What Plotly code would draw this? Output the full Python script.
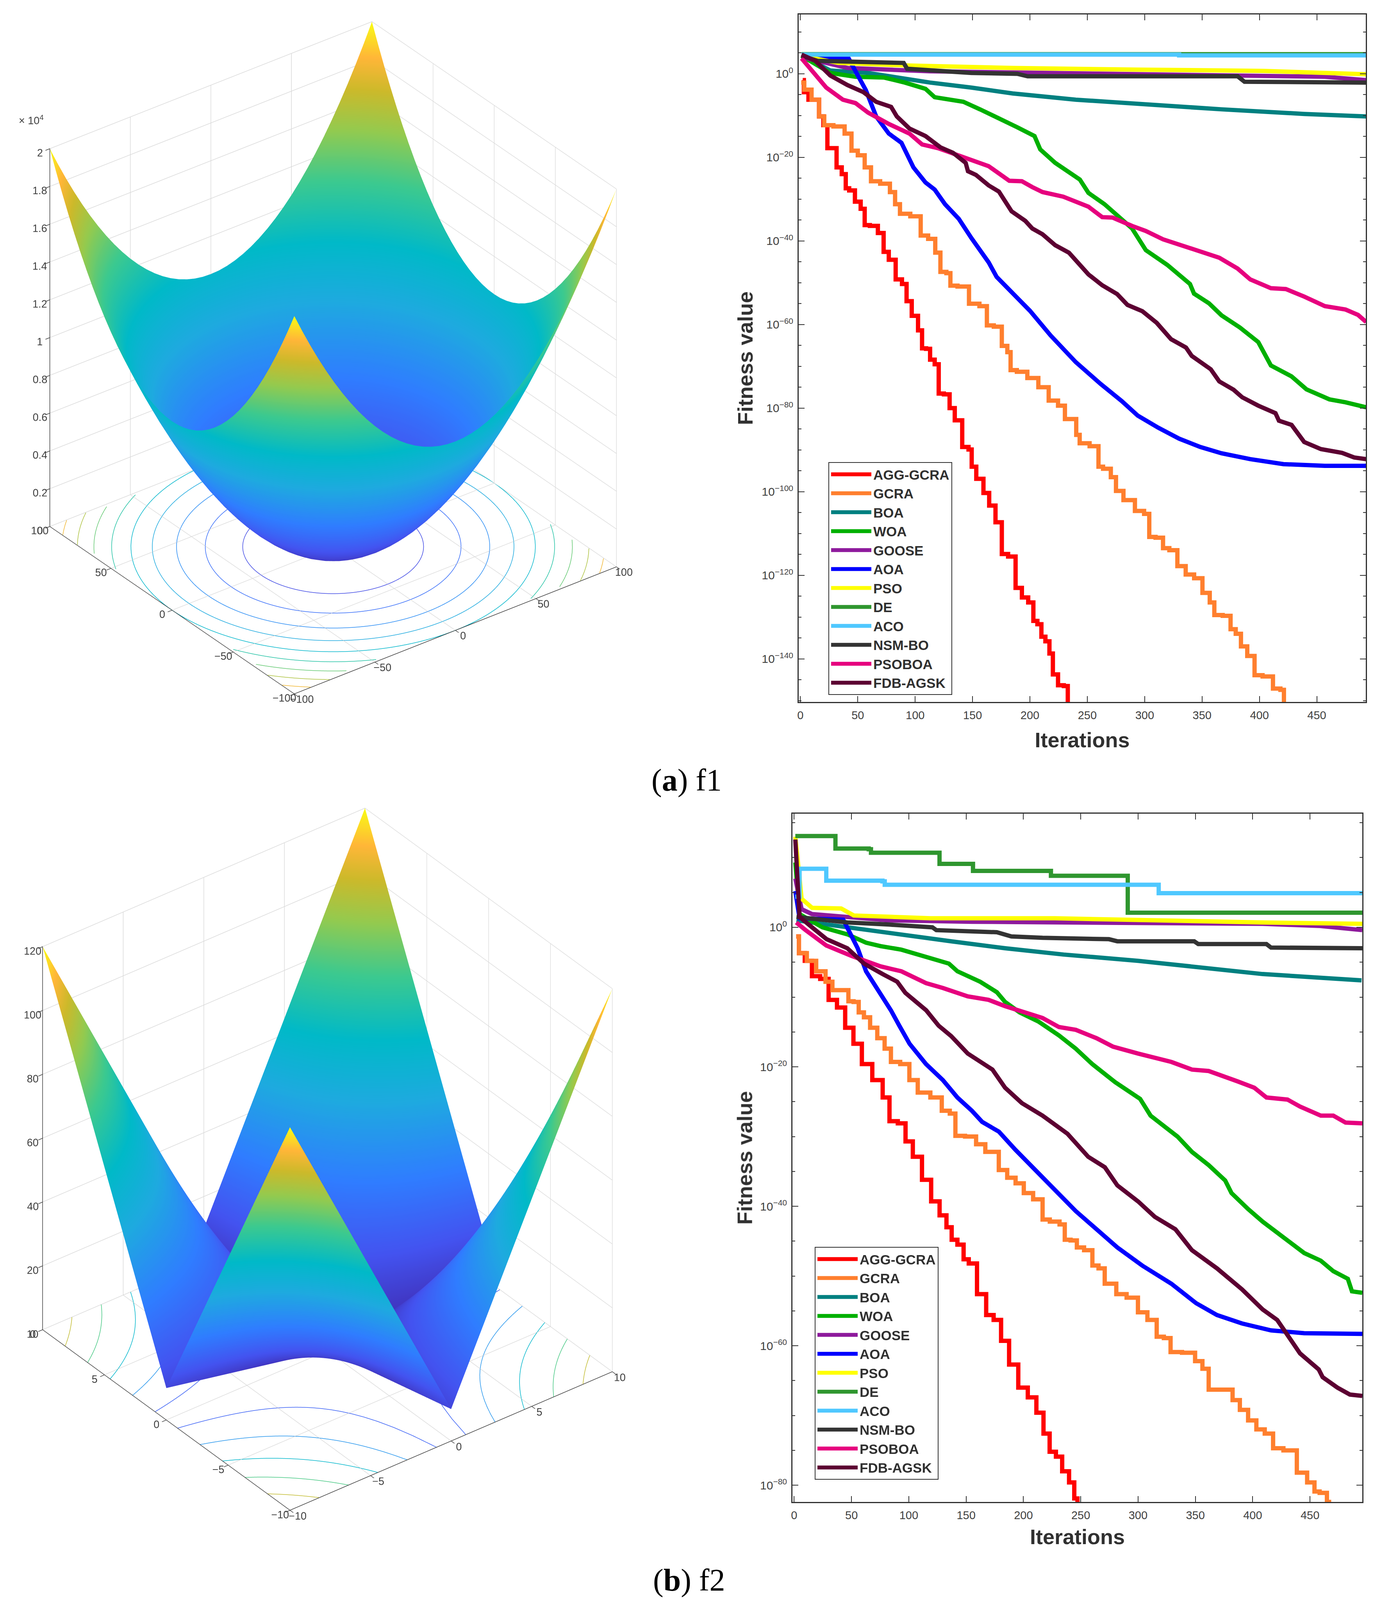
import numpy as np
import plotly.graph_objects as go

W, H = 3518, 4120

NAMES = ['AGG-GCRA', 'GCRA', 'BOA', 'WOA', 'GOOSE', 'AOA', 'PSO', 'DE', 'ACO', 'NSM-BO', 'PSOBOA', 'FDB-AGSK']
COLORS = ['#ff0000', '#ff7f2e', '#008080', '#00b000', '#8e1a9c', '#0000ff', '#ffff00', '#2f962f', '#4fc8ff', '#333333', '#e6007e', '#5c0032']
STEPPED = ['DE', 'ACO']
HALF_STEPPED = ['AGG-GCRA', 'GCRA']

# f1 curves, iteration and log10 of fitness
A_AGG_X = [2, 4, 10, 14.5, 18, 22, 25, 30, 33, 39, 40, 45, 50, 55, 57, 64, 71, 74, 80, 86, 91, 94, 100, 105, 107, 112, 114, 120, 121, 129, 131, 138, 144, 149, 149.5, 157, 162, 167, 173, 178, 184, 191, 195, 202, 204, 209, 211, 216, 218, 222, 227, 232, 234]
A_AGG_Y = [-1.5, -4.4, -6.2, -6.2, -10.2, -12.3, -17.8, -17.8, -22.4, -24, -27.4, -27.9, -30.6, -32.3, -36.2, -36.4, -38.1, -42.6, -44.5, -49.2, -50.3, -54.4, -57.9, -61.4, -65.7, -65.8, -68.4, -69.5, -76.5, -76.7, -80, -82.9, -89.3, -89.9, -94, -96.9, -100.3, -103.3, -107.3, -114.9, -115.5, -123, -125.3, -126.5, -130.9, -131.7, -134.7, -135.8, -138.7, -143.7, -146.3, -146.5, -150.3]
A_GCRA_X = [0.7, 6, 13.4, 19, 22.5, 35, 42, 47, 53, 59, 64, 75, 81, 84, 89.5, 102, 107.6, 115, 120, 124, 130.4, 131, 142.8, 151, 161, 164, 173, 178, 182.6, 183.7, 193.5, 202, 212.7, 220, 229, 232, 239, 241.7, 245, 259, 260.5, 267, 274, 276, 287, 296, 303, 305, 314, 318, 325, 332, 339.5, 346.7, 354, 359.4, 362, 374, 375.7, 383, 384.8, 394, 397.5, 408, 415.6, 421, 421.7]
A_GCRA_Y = [-2.1, -3.8, -6.2, -10.2, -12.3, -12.6, -14.3, -18.4, -19.5, -22.4, -25.7, -26.3, -28.3, -31.2, -33.5, -34.1, -38.7, -39.5, -42.8, -47.4, -47.7, -50.7, -50.9, -55, -55.6, -60.2, -60.5, -65.1, -66.6, -70.9, -71.3, -72.8, -75, -78.2, -79.4, -82.6, -82.6, -86.4, -88.4, -89.1, -94, -94.5, -96.5, -99.8, -102, -104.6, -105.3, -110.8, -111, -113.5, -114, -117.8, -119.8, -120.7, -124.2, -126.5, -129.5, -129.7, -132.9, -134, -137, -139.3, -143.9, -144.2, -147.1, -147.4, -150.3]
A_BOA_X = [1, 26, 59, 84, 113, 149, 185, 240, 295, 367, 439, 493]
A_BOA_Y = [4.3, 0.8, 0.2, -0.9, -2.1, -3.3, -4.7, -6.2, -7.3, -8.5, -9.6, -10.2]
A_WOA_X = [1, 26, 48, 73, 91, 109, 117, 142, 156.5, 175, 189, 204, 209, 222, 243.5, 251, 265, 289, 301, 319.6, 339.5, 343, 356, 367, 383, 399, 404.7, 410, 428, 441, 461, 475, 493]
A_WOA_Y = [4.3, 0.2, -0.7, -0.9, -2.1, -3.6, -5.6, -6.7, -8.5, -10.8, -12.8, -14.9, -18.1, -21.3, -25.3, -28.5, -31.2, -37, -42.2, -45.7, -50.3, -52.6, -54.9, -57.8, -60.7, -64.2, -67.2, -69.8, -72.4, -75.5, -77.9, -78.6, -79.8]
A_GOOSE_X = [1, 41, 113, 222, 330, 403, 457, 493]
A_GOOSE_Y = [4, 1.4, 0.6, 0.2, -0.1, -0.4, -0.7, -1.5]
A_AOA_X = [1, 42, 50, 57, 66, 77, 88, 98.5, 109, 117, 126, 138, 149, 164, 171, 185.5, 200, 218, 240, 261.6, 280, 294, 312, 330, 348.5, 367, 392, 421, 457, 493]
A_AOA_Y = [4.3, 3.7, -0.4, -3.9, -10.2, -14.3, -16.5, -22.4, -26, -27.7, -31.2, -34.7, -39.3, -45.1, -48.6, -52.7, -56.7, -62.6, -69, -74.2, -78.3, -81.8, -84.7, -87.3, -89.3, -90.8, -92.2, -93.4, -93.8, -93.8]
A_PSO_X = [1, 33, 91, 185.5, 294, 403, 493]
A_PSO_Y = [4.3, 2.6, 2, 1.4, 1, 0.7, -0.1]
A_DE_X = [1, 493]
A_DE_Y = [4.7, 4.4]
A_ACO_X = [1, 330, 493]
A_ACO_Y = [4.6, 4.4, 4.3]
A_NSM_X = [1, 15, 90, 93, 149, 189, 198, 381, 387, 493]
A_NSM_Y = [4.3, 3.1, 2.6, 1.2, 0.2, 0, -0.6, -0.6, -1.9, -2.1]
A_PSOBOA_X = [1, 10, 22.5, 37, 48, 59, 77, 95, 106, 120, 135, 146, 164, 182, 193, 202, 211, 229, 251, 263, 272, 289, 301, 316, 330, 348.5, 365, 381, 392, 410, 423, 439, 457, 475, 486, 493]
A_PSOBOA_Y = [3.7, 0.8, -3.3, -6.2, -7, -9.3, -12, -14.3, -16.9, -17.8, -19.3, -20.5, -22.1, -25.6, -25.7, -27.1, -28.3, -29.4, -31.8, -34.3, -34.4, -36.4, -37.6, -39.6, -40.8, -42.6, -44, -46.6, -49.2, -51.3, -51.5, -53.3, -55.6, -56.4, -57.7, -59.4]
A_FDB_X = [1, 13, 26, 41, 55, 66, 79, 84, 95, 109, 122, 133, 144, 146, 153, 164, 173, 184, 196, 202, 211, 222, 234, 243.5, 251, 263, 276, 285, 298, 310.5, 323, 336, 341, 357.6, 365, 377.5, 385, 399, 414, 417, 428, 439, 453.6, 472, 482.6, 493]
A_FDB_Y = [4.6, 3.1, -0.4, -2.7, -4.4, -6.7, -7.9, -10.2, -13.1, -14.9, -17.6, -18.9, -21.3, -23.3, -24.2, -26.7, -28.2, -32.9, -35.2, -37, -38.4, -41, -42.8, -45.7, -48, -50.6, -52.7, -55.3, -56.8, -59.6, -63.5, -65.5, -67.5, -70.7, -73.6, -75.6, -77.4, -79.4, -81.2, -83, -84, -88.1, -89.8, -90.7, -91.8, -92.2]

# f2 curves
B_AGG_X = [1.8, 6.5, 12, 19, 26.4, 33.7, 41, 48, 55.4, 62.7, 73.6, 80.8, 85.5, 95.3, 99, 108, 115, 124, 129.7, 136, 138.8, 146, 149.6, 155, 164, 171, 177, 184, 191, 200, 207.6, 215, 220, 225.7, 231, 236.6, 243, 245.7, 248.6]
B_AGG_Y = [-1.3, -3.7, -4.8, -7, -7.4, -10.4, -11.5, -14.4, -16.7, -19.6, -21.9, -24.4, -27.8, -28.1, -30.7, -32.9, -36.2, -39.3, -41.3, -43, -44.8, -45.5, -47.6, -48.2, -52.6, -55.6, -56.3, -59.3, -62.7, -66, -67.4, -69.6, -72.6, -75.2, -75.9, -78, -79.6, -81.9, -82.4]
B_GCRA_X = [1.8, 6.5, 15.6, 22.8, 31.9, 34.8, 46.4, 48.2, 55.4, 57.2, 64.5, 68, 77, 80.8, 88, 97, 104, 111.6, 126, 131.5, 140, 141.3, 156.9, 160.5, 173, 184, 187.7, 198.6, 202, 214.9, 218.5, 227.5, 235.5, 236.6, 245.7, 247.5, 258.3, 262, 269, 272.8, 280, 282, 298, 301.8, 314.5, 318, 327, 329.7, 347, 352.5, 359.8, 363.4, 377.9, 387, 390.6, 401.4, 405, 416, 419.6, 434, 443, 452, 455.8, 461, 468.5]
B_GCRA_Y = [-1.3, -3.7, -4.8, -6.3, -7.8, -9, -9, -10.6, -10.7, -12.2, -12.9, -14.4, -15.9, -17.4, -19.3, -19.6, -21.9, -23.7, -24.4, -26.3, -26.7, -29.9, -30, -31.1, -32.2, -34.8, -35.9, -36.7, -38.1, -39, -41.9, -42.2, -42.6, -44.8, -44.9, -45.9, -46.3, -48.5, -48.9, -51.1, -51.1, -52.6, -53.1, -55.2, -56.3, -58.7, -58.9, -60.9, -61, -62.2, -63.3, -66.3, -66.3, -67.8, -69.2, -70.7, -72, -72.6, -74.7, -75, -78.2, -79.6, -80.9, -81.1, -82.4]
B_BOA_X = [2, 28, 64.5, 100.7, 137, 184, 235, 300, 354, 408.7, 495]
B_BOA_Y = [1, 0.4, -0.4, -1.3, -2, -3, -3.9, -4.8, -5.7, -6.7, -7.6]
B_WOA_X = [1, 4.7, 24.6, 46.4, 62.7, 75.4, 93.5, 118.8, 135, 142.4, 162.3, 176.8, 184, 196.7, 213, 231, 245.7, 260, 280, 301.8, 310.9, 334.4, 347, 361.6, 376, 381.5, 396, 408.7, 426.8, 444.9, 459.4, 470.3, 483, 486.6, 495.6]
B_WOA_Y = [9.3, 1.9, 0, -1, -2.2, -2.7, -3.2, -4.4, -5.2, -6.3, -7.8, -9.3, -10.7, -12.2, -13.5, -15.5, -17.4, -19.6, -22.2, -24.6, -27, -30, -32.2, -34.1, -36.3, -38.1, -40.4, -42.2, -44.4, -46.7, -47.8, -49.3, -50.4, -52.2, -52.4]
B_GOOSE_X = [1, 6.5, 15.6, 42.8, 82.6, 155, 300, 408.7, 459, 495.6]
B_GOOSE_Y = [7, 2.6, 1.9, 1.5, 1, 0.8, 0.7, 0.5, 0.2, -0.4]
B_AOA_X = [1, 4.7, 42.8, 48, 55.4, 62.7, 75.4, 84.4, 91.7, 100.7, 115, 129.7, 142.4, 155, 164, 178.6, 193, 213, 234.8, 245.7, 263.8, 281.9, 303.6, 329, 350.7, 368.8, 390.6, 416, 444.9, 495.6]
B_AOA_Y = [5.2, 1.3, 1.1, -0.7, -3, -6.3, -9.6, -11.9, -14.1, -16.7, -19.6, -21.9, -24.4, -26.3, -27.9, -29.3, -31.9, -35.2, -38.9, -40.7, -43.3, -45.9, -48.5, -51.1, -53.9, -55.6, -56.8, -57.8, -58.2, -58.3]
B_PSO_X = [1, 6.5, 15.6, 41, 52, 118.8, 227.5, 300, 408.7, 495.6]
B_PSO_Y = [13, 4.1, 2.8, 2.7, 1.7, 1.3, 1.3, 1, 0.7, 0.5]
B_DE_X = [1, 32.6, 36, 65, 67, 124, 126.8, 154, 156, 222, 224, 289, 291, 495.6]
B_DE_Y = [13.1, 13.1, 11.3, 11.2, 10.7, 10.7, 9.1, 9.1, 8.1, 8.1, 7.4, 7.4, 2.1, 1.9]
B_ACO_X = [1, 4.7, 26.4, 28, 77, 79, 316, 318, 495.6]
B_ACO_Y = [4.4, 8.4, 8.4, 6.7, 6.6, 6.1, 6.1, 4.9, 4.9]
B_NSM_X = [2, 46.4, 82.6, 120.6, 124, 176.8, 189.5, 216.7, 274.6, 281.9, 349, 352.5, 412, 416, 495.6]
B_NSM_Y = [1.5, 0.7, 0.4, 0, -0.4, -0.7, -1.3, -1.5, -1.7, -2, -2, -2.4, -2.4, -2.9, -3]
B_PSOBOA_X = [1.8, 10, 28, 50, 75.4, 93.5, 115, 129.7, 151.4, 169.6, 184, 198.6, 216.7, 231, 245.7, 263.8, 278, 300, 329, 347, 361.6, 387, 401.4, 412, 430.4, 441.3, 459.4, 470.3, 481, 495.6]
B_PSOBOA_Y = [0.7, -0.4, -2.6, -4.1, -5.6, -6.3, -8, -8.7, -9.9, -10.4, -11.3, -12, -13, -14.3, -14.7, -15.9, -17.1, -18.1, -19.3, -20.4, -20.6, -22.1, -23, -24.4, -24.7, -25.7, -27, -27, -28, -28.1]
B_FDB_X = [1, 4.7, 15.6, 28.3, 46.4, 60.9, 77.2, 89.9, 97, 115.2, 126, 137, 151.4, 173, 184, 198.6, 216.7, 238.4, 256.5, 271, 281.9, 300, 314.5, 332.6, 347, 368.8, 390.6, 408.7, 421.4, 430.4, 441.3, 457.6, 461, 473.9, 484.8, 495.6]
B_FDB_Y = [12.6, 1.5, 0, -1.7, -3, -5.2, -6.7, -7.8, -9.4, -11.9, -14.1, -15.6, -18.1, -20.4, -23, -25.2, -27, -29.6, -32.9, -34.4, -37, -39.3, -41.5, -43.3, -46.3, -48.9, -51.9, -54.8, -56.3, -58.5, -61.1, -63.4, -64.5, -66, -67, -67.2]

A_CURVES = [(A_AGG_X, A_AGG_Y), (A_GCRA_X, A_GCRA_Y), (A_BOA_X, A_BOA_Y), (A_WOA_X, A_WOA_Y), (A_GOOSE_X, A_GOOSE_Y), (A_AOA_X, A_AOA_Y),
            (A_PSO_X, A_PSO_Y), (A_DE_X, A_DE_Y), (A_ACO_X, A_ACO_Y), (A_NSM_X, A_NSM_Y), (A_PSOBOA_X, A_PSOBOA_Y), (A_FDB_X, A_FDB_Y)]
B_CURVES = [(B_AGG_X, B_AGG_Y), (B_GCRA_X, B_GCRA_Y), (B_BOA_X, B_BOA_Y), (B_WOA_X, B_WOA_Y), (B_GOOSE_X, B_GOOSE_Y), (B_AOA_X, B_AOA_Y),
            (B_PSO_X, B_PSO_Y), (B_DE_X, B_DE_Y), (B_ACO_X, B_ACO_Y), (B_NSM_X, B_NSM_Y), (B_PSOBOA_X, B_PSOBOA_Y), (B_FDB_X, B_FDB_Y)]

X_TICKS = [0, 50, 100, 150, 200, 250, 300, 350, 400, 450]

F1_GRID = [-100, -95, -90, -85, -80, -75, -70, -65, -60, -55, -50, -45, -40, -35, -30, -25, -20, -15, -10, -5, 0,
           5, 10, 15, 20, 25, 30, 35, 40, 45, 50, 55, 60, 65, 70, 75, 80, 85, 90, 95, 100]
F2_GRID = [-10, -9.5, -9, -8.5, -8, -7.5, -7, -6.5, -6, -5.5, -5, -4.5, -4, -3.5, -3, -2.5, -2, -1.5, -1, -0.5, 0,
           0.5, 1, 1.5, 2, 2.5, 3, 3.5, 4, 4.5, 5, 5.5, 6, 6.5, 7, 7.5, 8, 8.5, 9, 9.5, 10]
F1_LEVELS = [2000, 4000, 6000, 8000, 10000, 12000, 14000, 16000, 18000]
F2_LEVELS = [20, 40, 60, 80, 100]

F1_TICKS = [-100, -50, 0, 50, 100]
F2_TICKS = [-10, -5, 0, 5, 10]
F1_Z_TICKS = [0, 2000, 4000, 6000, 8000, 10000, 12000, 14000, 16000, 18000, 20000]
F1_Z_TEXT = ['0', '0.2', '0.4', '0.6', '0.8', '1', '1.2', '1.4', '1.6', '1.8', '2']
F2_Z_TICKS = [0, 20, 40, 60, 80, 100, 120]

PARULA = [[0, '#3f2bb0'], [0.12, '#4353f0'], [0.25, '#2f7dff'], [0.4, '#1eaadf'], [0.52, '#00b9c8'],
          [0.65, '#3cc98f'], [0.76, '#93ca4f'], [0.85, '#cdb92a'], [0.92, '#ffb638'], [1, '#f9fb15']]


def px_x(x):
    return x / W


def px_y(y):
    return 1 - y / H


def mathtext(v):
    return str(v).replace('-', '\u2212')


def scene_layout(domain_y, ticks, z_ticks, z_text, camera, scale, z_aspect):
    # orthographic scenes ignore the eye distance, so the size comes from the aspect ratio
    common = dict(showbackground=False, showgrid=True, gridcolor='#d8d8d8', gridwidth=3, zeroline=False,
                  showline=True, linecolor='#303030', linewidth=3, ticks='outside', ticklen=14, tickwidth=3,
                  tickcolor='#303030', tickangle=0, title='', showspikes=False,
                  tickfont=dict(family='Liberation Sans', size=18, color='#404040'))
    return dict(
        domain=dict(x=[0, 0.5], y=domain_y),
        xaxis=dict(range=[ticks[0], ticks[-1]], tickvals=ticks, ticktext=[mathtext(t) for t in ticks], **common),
        yaxis=dict(range=[ticks[0], ticks[-1]], tickvals=ticks, ticktext=[mathtext(t) for t in ticks], **common),
        zaxis=dict(range=[z_ticks[0], z_ticks[-1]], tickvals=z_ticks, ticktext=z_text, **common),
        aspectmode='manual', aspectratio=dict(x=scale, y=scale, z=z_aspect), camera=camera,
    )


def camera_at(azimuth, elevation, dist, center):
    a, e = np.radians(azimuth), np.radians(elevation)
    eye = dict(x=center[0] + dist * np.cos(a) * np.cos(e), y=center[1] + dist * np.sin(a) * np.cos(e),
               z=center[2] + dist * np.sin(e))
    return dict(projection=dict(type='orthographic'), eye=eye, up=dict(x=0, y=0, z=1),
                center=dict(x=center[0], y=center[1], z=center[2]))


def surface_trace(grid, z, scene):
    return go.Surface(x=grid, y=grid, z=z, scene=scene, colorscale=PARULA, showscale=False,
                      cmin=0, cmax=z.max(), lighting=dict(ambient=1, diffuse=0, specular=0, roughness=1, fresnel=0),
                      hoverinfo='skip')


def floor_trace(xs, ys, vals, scene, vmax):
    return go.Scatter3d(x=xs, y=ys, z=[0] * len(xs), mode='lines', scene=scene, showlegend=False, hoverinfo='skip',
                        line=dict(color=vals, colorscale=PARULA, cmin=0, cmax=vmax, width=3))


def f1_arcs(levels):
    xs, ys, vals = [], [], []
    for level in levels:
        r = np.sqrt(level)
        t = np.linspace(0, 2 * np.pi, 181)
        cx, cy = r * np.cos(t), r * np.sin(t)
        for i in range(len(t)):
            inside = abs(cx[i]) <= 100 and abs(cy[i]) <= 100
            xs.append(float(cx[i]) if inside else None)
            ys.append(float(cy[i]) if inside else None)
            vals.append(level)
        xs.append(None)
        ys.append(None)
        vals.append(level)
    return xs, ys, vals


def f2_arcs(levels):
    xs, ys, vals = [], [], []
    for level in levels:
        u = np.linspace((level - 10) / 11, 10, 31)
        v = (level - u) / (1 + u)
        for sx in (1, -1):
            for sy in (1, -1):
                xs += (sx * u).tolist() + [None]
                ys += (sy * v).tolist() + [None]
                vals += [level] * (len(u) + 1)
    return xs, ys, vals


fig = go.Figure()

g1 = np.array(F1_GRID, dtype=float)
z1 = g1[:, None] ** 2 + g1[None, :] ** 2
fig.add_trace(surface_trace(g1, z1, 'scene'))
fig.add_trace(floor_trace(*f1_arcs(F1_LEVELS), 'scene', 20000))

g2 = np.array(F2_GRID, dtype=float)
a2 = np.abs(g2)
z2 = a2[:, None] + a2[None, :] + a2[:, None] * a2[None, :]
fig.add_trace(surface_trace(g2, z2, 'scene2'))
fig.add_trace(floor_trace(*f2_arcs(F2_LEVELS), 'scene2', 120))

# convergence curves
for curves, xa, ya, legend in ((A_CURVES, 'x', 'y', 'legend'), (B_CURVES, 'x2', 'y2', 'legend2')):
    for (xs, ys), name, color in zip(curves, NAMES, COLORS):
        shape = 'hv' if name in STEPPED else 'hvh' if name in HALF_STEPPED else 'linear'
        fig.add_trace(go.Scatter(
            x=xs, y=10.0 ** np.array(ys), xaxis=xa, yaxis=ya, name=name, legend=legend, mode='lines',
            line=dict(color=color, width=11, shape=shape), hoverinfo='skip'))


def x_axis(left, right, x_range, anchor, standoff):
    return dict(domain=[px_x(left), px_x(right)], range=x_range, anchor=anchor, tickvals=X_TICKS, ticks='inside', ticklen=15,
                tickwidth=2, tickcolor='#303030', mirror='allticks', showline=True, linecolor='#303030', linewidth=3,
                showgrid=False, zeroline=False, ticklabelstandoff=6,
                tickfont=dict(family='Liberation Sans', size=29, color='#404040'),
                title=dict(text='<b>Iterations</b>', standoff=standoff, font=dict(family='Liberation Sans', size=54, color='#303030')))


def y_axis(top, bottom, y_range, anchor, low, standoff):
    major = [p for p in range(low, 1, 20)]
    minor = [10.0 ** p for p in range(low - 10, 16, 5) if p % 20 != 0]
    return dict(domain=[px_y(bottom), px_y(top)], range=y_range, type='log', anchor=anchor,
                tickvals=[10.0 ** p for p in major], ticktext=['10<sup>%s</sup>' % mathtext(p) for p in major],
                minor=dict(tickvals=minor, ticks='inside', ticklen=7, tickwidth=2, tickcolor='#303030', showgrid=False),
                ticks='inside', ticklen=15, tickwidth=2, tickcolor='#303030', mirror='allticks', showline=True,
                linecolor='#303030', linewidth=3, showgrid=False, zeroline=False, ticklabelstandoff=5,
                tickfont=dict(family='Liberation Sans', size=30, color='#404040'),
                title=dict(text='<b>Fitness value</b>', standoff=standoff, font=dict(family='Liberation Sans', size=54, color='#303030')))


legend_style = dict(bgcolor='#ffffff', bordercolor='#303030', borderwidth=2, itemwidth=103, xanchor='left', yanchor='top',
                    xref='paper', yref='paper', traceorder='normal', tracegroupgap=0,
                    font=dict(family='Liberation Sans', size=35, color='#303030', weight='bold'))

fig.update_layout(
    width=W, height=H, margin=dict(l=0, r=0, t=0, b=0, autoexpand=False), paper_bgcolor='white', plot_bgcolor='white',
    showlegend=True,
    xaxis=x_axis(2045, 3497, [-1.5, 492.7], 'y', 30),
    yaxis=y_axis(37, 1797, [-150.3, 14.2], 'x', -140, 6),
    xaxis2=x_axis(2029, 3488, [-1.5, 495.6], 'y2', 22),
    yaxis2=y_axis(2083, 3845, [-82.4, 16.3], 'x2', -80, 3),
    legend=dict(x=px_x(2121), y=px_y(1183), **legend_style),
    legend2=dict(x=px_x(2086), y=px_y(3192), **legend_style),
    scene=scene_layout([px_y(1950), 1], F1_TICKS, F1_Z_TICKS, F1_Z_TEXT,
                       camera_at(232.8, 31.3, 2.0, (0.0026, -0.0416, -0.0518)), 1.062, 1.161),
    scene2=scene_layout([px_y(4000), px_y(2050)], F2_TICKS, F2_Z_TICKS, [str(v) for v in F2_Z_TICKS],
                        camera_at(232.5, 34.06, 2.0, (0.0133, -0.0518, -0.0489)), 1.067, 1.214),
    annotations=[
        dict(x=px_x(1758), y=px_y(1997), xref='paper', yref='paper', showarrow=False, text='(<b>a</b>) f1',
             xanchor='center', yanchor='middle', font=dict(family='Liberation Serif', size=80, color='black')),
        dict(x=px_x(1764), y=px_y(4045), xref='paper', yref='paper', showarrow=False, text='(<b>b</b>) f2',
             xanchor='center', yanchor='middle', font=dict(family='Liberation Serif', size=80, color='black')),
        dict(x=px_x(80), y=px_y(307), xref='paper', yref='paper', showarrow=False, text='\u00d7 10<sup>4</sup>',
             xanchor='center', yanchor='middle', font=dict(family='Liberation Sans', size=27, color='#404040')),
    ],
)

fig.write_html("out.html", post_script="document.body.style.margin='0';", config=dict(displayModeBar=False))
